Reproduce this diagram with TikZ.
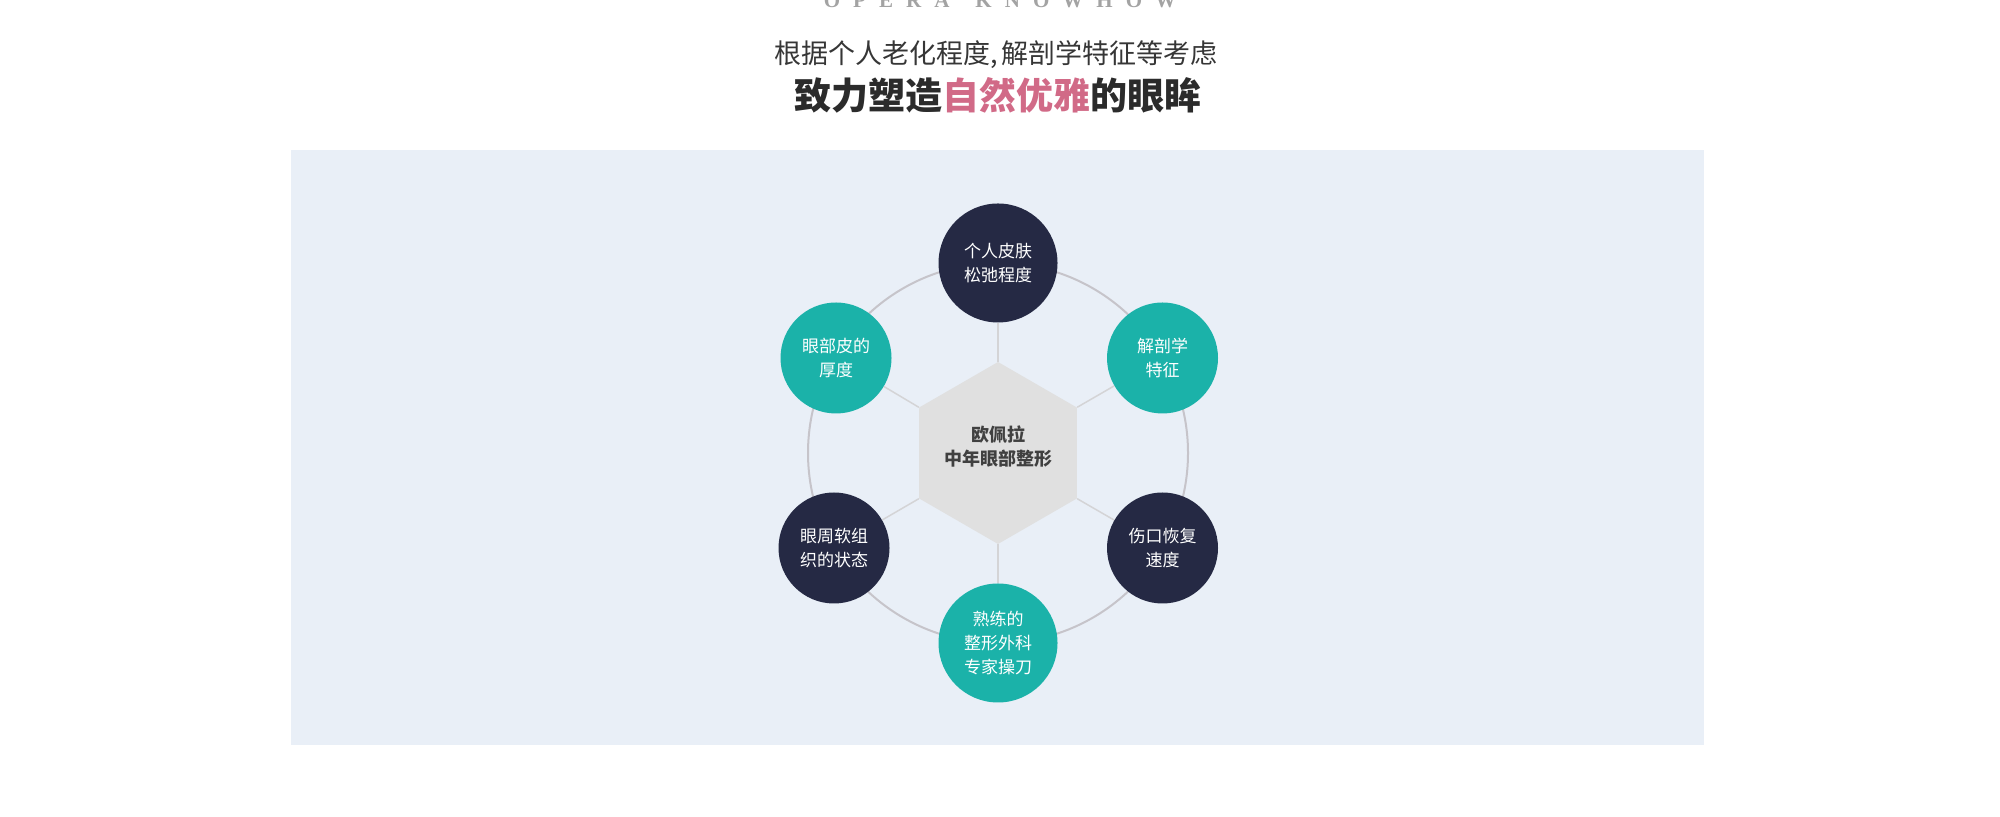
\documentclass[tikz,border=0pt]{standalone}
\usepackage{fontspec}
\setmainfont{Noto Sans CJK SC}
\newfontfamily\brandfont[LetterSpace=62]{Liberation Serif}
\usepackage{tikz}
\usetikzlibrary{shapes.geometric, backgrounds}
\definecolor{panel}{HTML}{E9EFF7}
\definecolor{navy}{HTML}{252944}
\definecolor{jade}{HTML}{1BB2A9}
\definecolor{hexgrey}{HTML}{E0E0E0}
\definecolor{ringgrey}{HTML}{C6C4CA}
\definecolor{spokegrey}{HTML}{D4D4D6}
\definecolor{ink}{HTML}{2B2B2B}
\definecolor{rose}{HTML}{D16A87}
\definecolor{brandgrey}{HTML}{A3A3A3}

\begin{document}
\begin{tikzpicture}[x=0.5pt, y=0.5pt,
    bubble/.style={circle, inner sep=0pt, text=white, align=center,
                   font=\fontsize{8.5}{12}\selectfont},
    navybubble/.style={bubble, fill=navy},
    jadebubble/.style={bubble, fill=jade},
    hubtext/.style={text=ink!90, align=center, font=\bfseries\fontsize{9}{12}\selectfont},
    spoke/.style={line width=0.75pt, spokegrey}]
  \useasboundingbox (0,0) rectangle (2000,817);
  % ---- heading ----
  \node[anchor=base, font=\brandfont\bfseries\fontsize{10.5}{10.5}\selectfont,
        text=brandgrey] (brand) at (1000,809) {OPERA\hspace{13pt}KNOWHOW};
  \node[font=\fontsize{13.5}{16}\selectfont, text=ink!95] (lead) at (996,762)
        {根据个人老化程度,\hspace{1.5pt}解剖学特征等考虑};
  \node[font=\bfseries\fontsize{18.5}{22}\selectfont, text=ink] (claim) at (998,722)
        {致力塑造\textcolor{rose}{自然优雅}的眼眸};
  % ---- hub: hexagon in the middle ----
  \node[regular polygon, regular polygon sides=6, shape border rotate=30,
        minimum size=91pt, inner sep=0pt, fill=hexgrey,
        label={[hubtext, yshift=3pt]center:欧佩拉\\中年眼部整形}] (hub) at (998,364) {};
  % ---- the six factors round it ----
  \node[navybubble, minimum size=59.5pt] (skin) at (998,554) {个人皮肤\\松弛程度};
  \node[jadebubble, minimum size=55.5pt] (anatomy) at (1162.5,459) {解剖学\\特征};
  \node[navybubble, minimum size=55.5pt] (healing) at (1162.5,269) {伤口恢复\\速度};
  \node[jadebubble, minimum size=59.5pt] (surgeon) at (998,174) {熟练的\\整形外科\\专家操刀};
  \node[navybubble, minimum size=55.5pt] (tissue) at (834,269) {眼周软组\\织的状态};
  \node[jadebubble, minimum size=55.5pt] (thickness) at (836,459) {眼部皮的\\厚度};
  % ---- panel, ring and spokes behind ----
  \begin{scope}[on background layer]
    \fill[panel] (291,72) rectangle (1704,667);
    \draw[ringgrey, line width=1pt] (hub.center) circle[radius=190];
    \draw[spoke] (hub.90) -- (skin);
    \draw[spoke] (hub.30) -- (anatomy);
    \draw[spoke] (hub.-30) -- (healing);
    \draw[spoke] (hub.-90) -- (surgeon);
    \draw[spoke] (hub.-150) -- (tissue);
    \draw[spoke] (hub.150) -- (thickness);
  \end{scope}
\end{tikzpicture}
\end{document}
